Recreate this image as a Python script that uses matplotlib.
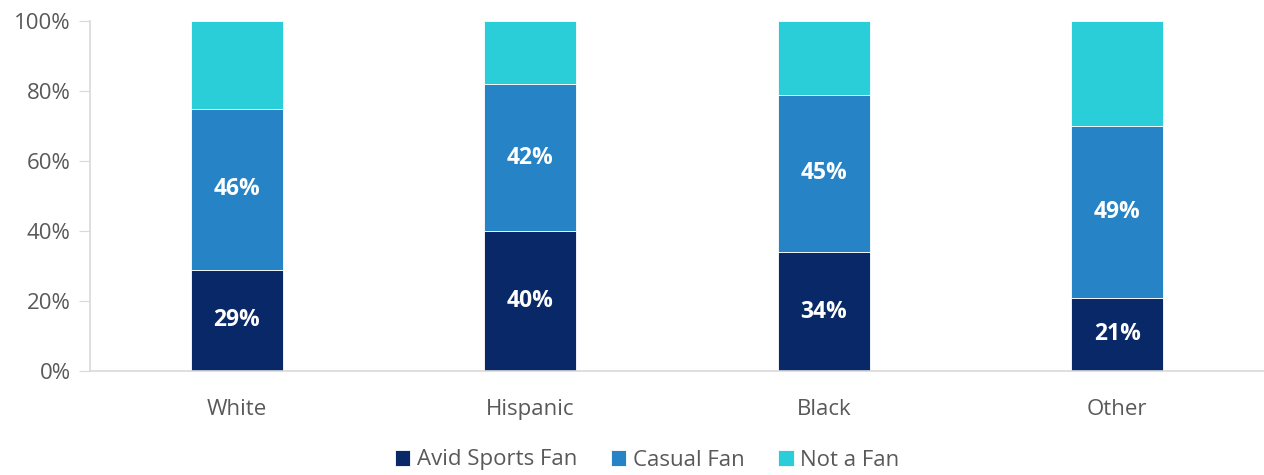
import matplotlib.pyplot as plt
import numpy as np

categories = ["White", "Hispanic", "Black", "Other"]
avid = [29, 40, 34, 21]
casual = [46, 42, 45, 49]
not_fan = [25, 18, 21, 30]
series_names = ["Avid Sports Fan", "Casual Fan", "Not a Fan"]
colors = ["#082868", "#2683C6", "#29CED8"]
yticks = [0, 20, 40, 60, 80, 100]

plt.rcParams['font.family'] = ['Open Sans', 'DejaVu Sans']

fig = plt.figure(figsize=(12.64, 4.75), dpi=100)
ax = fig.add_axes([90/1264, (475-371)/475, 1 - 90/1264, 350/475])

x = np.arange(len(categories))
w = 0.313
bottom = np.zeros(len(categories))
for vals, col, name in zip([avid, casual, not_fan], colors, series_names):
    ax.bar(x, vals, w, bottom=bottom, color=col, label=name,
           edgecolor="white", linewidth=0.6)
    if name != "Not a Fan":
        for xi, b, v in zip(x, bottom, vals):
            ax.text(xi, b + v / 2, f"{v}%", ha="center", va="center",
                    color="white", fontsize=16.5, fontweight="bold")
    bottom += np.array(vals)

ax.set_xlim(-0.5, 3.5)
ax.set_ylim(0, 100)
ax.set_yticks(yticks)
ax.set_yticklabels([f"{t}%" for t in yticks])
ax.set_xticks(x)
ax.set_xticklabels(categories)
for s in ["top", "right"]:
    ax.spines[s].set_visible(False)
for s in ["left", "bottom"]:
    ax.spines[s].set_color("#D9D9D9")
    ax.spines[s].set_linewidth(1.2)
ax.tick_params(axis="y", length=8, color="#D9D9D9", labelsize=16,
               labelcolor="#595959", pad=6)
ax.tick_params(axis="x", length=0, labelsize=16, labelcolor="#595959", pad=20)

fig.legend(loc="center", bbox_to_anchor=(0.512, (475-460)/475),
           ncol=3, frameon=False, fontsize=16, handlelength=0.7,
           handleheight=0.7, handletextpad=0.3, columnspacing=1.5,
           labelcolor="#595959")

fig.savefig("out.png", dpi=100)
